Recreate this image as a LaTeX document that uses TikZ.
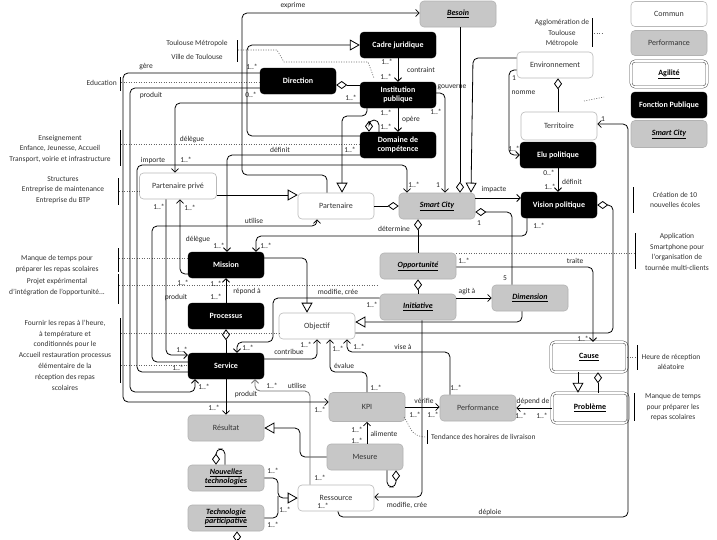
\documentclass[tikz,border=0pt]{standalone}
\usepackage{fontspec}
\setmainfont{Carlito}
\usetikzlibrary{arrows.meta}
\begin{document}
\begin{tikzpicture}[x=1pt,y=-1pt,
  nbox/.style={rounded corners=4pt, minimum width=76pt, minimum height=26pt, align=center, inner sep=1pt, font=\fontsize{8}{9.5}\selectfont},
  uCommun/.style={nbox, draw=gray!55, fill=white, line width=0.6pt, text=black!80},
  uPerf/.style={nbox, draw=gray!60, fill=black!22, line width=0.6pt, text=black!80},
  uAgil/.style={nbox, draw=black!70, double=white, double distance=1.6pt, line width=0.5pt, fill=white, font=\fontsize{8}{9.5}\selectfont\bfseries},
  uFP/.style={nbox, draw=black, fill=black, text=white, font=\fontsize{8}{9.5}\selectfont\bfseries},
  uSC/.style={nbox, draw=gray!60, fill=black!22, line width=0.6pt, font=\fontsize{8}{9.5}\selectfont\bfseries\itshape},
  lbl/.style={font=\fontsize{7.5}{8}\selectfont, inner sep=0.5pt, text=black!85},
  notetxt/.style={font=\fontsize{7.5}{10.8}\selectfont, align=center, inner sep=0pt, text=black!80},
  notebar/.style={line width=1pt},
  conn/.style={line width=0.8pt, rounded corners=5pt},
  nav/.style={conn, -{Straight Barb[length=3.5pt,width=7pt]}},
  gen/.style={conn, -{Triangle[open,length=10pt,width=11pt]}},
  agg/.style={conn, {Diamond[open,length=11pt,width=8pt]}-},
  dotl/.style={line width=0.6pt, dash pattern=on 1pt off 1.5pt, black!60},
]
\fill[white] (0,0) rectangle (717,539);
\useasboundingbox (0,0) rectangle (717,539);

% ---------- legend ----------
\node[uCommun, minimum height=25pt] (L1) at (669,14) {Commun};
\node[uPerf, minimum height=25pt] (L2) at (669,43) {Performance};
\node[uAgil] (L3) at (669,74) {\underline{Agilité}};
\node[uFP] (L4) at (669,105) {Fonction Publique};
\node[uSC, minimum height=27pt] (L5) at (669,134) {\underline{Smart City}};

% ---------- nodes ----------
\node[uSC] (Bes) at (458,14) {\underline{Besoin}};
\node[uFP] (Cad) at (398,45) {Cadre juridique};
\node[uFP] (Dir) at (298,81) {Direction};
\node[uFP] (Inst) at (398,95) {Institution\\publique};
\node[uFP] (Dom) at (398,145) {Domaine de\\compétence};
\node[uCommun] (Env) at (555,65) {Environnement};
\node[uCommun, minimum height=28pt] (Ter) at (559,126) {Territoire};
\node[uFP] (Elu) at (558,155) {Elu politique};
\node[uFP] (Vis) at (559,205) {Vision politique};
\node[uCommun, minimum width=77pt] (PP) at (178,186) {Partenaire privé};
\node[uCommun] (Part) at (336,206) {Partenaire};
\node[uSC] (SC) at (437,206) {\underline{Smart City}};
\node[uSC] (Opp) at (418,266) {\underline{Opportunité}};
\node[uSC] (Ini) at (418,307) {\underline{Initiative}};
\node[uSC] (Dim) at (530,298) {\underline{Dimension}};
\node[uCommun] (Obj) at (317,326) {Objectif};
\node[uFP] (Mis) at (226,265) {Mission};
\node[uFP] (Pro) at (226,316) {Processus};
\node[uFP] (Ser) at (226,366) {Service};
\node[uPerf] (Rst) at (226,428) {Résultat};
\node[uSC] (NT) at (226,478) {\underline{Nouvelles}\\\underline{technologies}};
\node[uSC] (TP) at (226,518) {\underline{Technologie}\\\underline{participative}};
\node[uPerf, minimum height=29pt] (KPI) at (367,407) {KPI};
\node[uPerf] (Mes) at (365,457) {Mesure};
\node[uCommun] (Res) at (336,498) {Ressource};
\node[uPerf] (Perf) at (478,408) {Performance};
\node[uAgil, minimum height=30pt] (Cau) at (589,357) {\underline{Cause}};
\node[uAgil, minimum height=30pt] (Prob) at (590,408) {\underline{Problème}};

% ---------- notes ----------
\node[notetxt, font=\fontsize{7.5}{13.5}\selectfont] (n1) at (197,50) {Toulouse Métropole\\Ville de Toulouse};
\draw[notebar] (237,40) -- (237,62);
\node[notetxt, anchor=east] (n2) at (117,83) {Education};
\draw[notebar] (120,77) -- (120,91);
\node[notetxt] (n3) at (60,149) {Enseignement\\Enfance, Jeunesse, Accueil\\Transport, voirie et infrastructure};
\draw[notebar] (120,130) -- (120,166);
\node[notetxt] (n4) at (63,190) {Structures\\Entreprise de maintenance\\Entreprise du BTP};
\draw[notebar] (118,178) -- (118,205);
\node[notetxt] (n5) at (57,264) {Manque de temps pour\\préparer les repas scolaires};
\draw[notebar] (118,248) -- (118,272);
\node[notetxt] (n6) at (57,287) {Projet expérimental\\d'intégration de l'opportunité...};
\draw[notebar] (118,274) -- (118,304);
\node[notetxt] (n7) at (65,355) {Fournir les repas à l'heure,\\à température et\\conditionnés pour le\\Accueil restauration processus\\élémentaire de la\\réception des repas\\scolaires};
\draw[notebar] (120,318) -- (120,383);
\node[notetxt] (n8) at (562,33) {Agglomération de\\Toulouse\\Métropole};
\draw[notebar] (592,18) -- (592,47);
\node[notetxt] (n9) at (675,200) {Création de 10\\nouvelles écoles};
\draw[notebar] (633,187) -- (633,213);
\node[notetxt] (n10) at (677,252) {Application\\Smartphone pour\\l'organisation de\\tournée multi-clients};
\draw[notebar] (635,233) -- (635,269);
\node[notetxt] (n11) at (671,362) {Heure de réception\\aléatoire};
\draw[notebar] (637,345) -- (637,370);
\node[notetxt] (n12) at (673,407) {Manque de temps\\pour préparer les\\repas scolaires};
\draw[notebar] (634,393) -- (634,421);
\node[notetxt, anchor=west] (n13) at (431,437) {Tendance des horaires de livraison};
\draw[notebar] (427,430) -- (427,444);

% note connectors
\draw[dotl] (238,50) -- (277,50) -- (284,62) -- (368,62) -- (374,78);
\draw[dotl] (121,82) -- (Dir.west |- 0,82);
\draw[dotl] (121,144) -- (Dom.west |- 0,144);
\draw[dotl] (119,191) -- (PP.west |- 0,191);
\draw[dotl] (119,258) -- (Mis.west |- 0,258);
\draw[dotl] (119,285) -- (378,285);
\draw[dotl] (121,333) -- (Obj.west |- 0,333);
\draw[dotl] (121,365) -- (Ser.west |- 0,365);
\draw[dotl] (Opp.east |- 0,253) -- (634,253);
\draw[dotl] (Cau.east |- 0,357) -- (636,357);
\draw[dotl] (594,33) -- (604,33);
\draw[dotl] (584,101) -- (604,97);
\draw[dotl] (404,417) .. controls (410,425) and (410,437) .. (426,437);

% ---------- connectors ----------
% exprime
\draw[nav] (Part.north -| 327,0) -- (327,175) -- (242,175) -- (242,13) -- (Bes.west |- 0,13);
\node[lbl] at (293,6) {exprime};
% Domaine is-a Cadre juridique
\draw[gen] (Dom.west |- 0,136) -- (247,136) -- (247,45) -- (Cad.west);
% contraint
\draw[nav] (Cad.south) -- (Inst.north);
\node[lbl] at (387,62) {1..*};
\node[lbl] at (386,77) {1..*};
\node[lbl] at (421,70) {contraint};
% Direction - Institution
\draw[agg] (Dir.east |- 0,85) -- (Inst.west |- 0,85);
% opere
\draw[nav] (Inst.south) -- (Dom.north);
\node[lbl] at (386,113) {1..*};
\node[lbl] at (386,127) {1..*};
\node[lbl] at (411,120) {opère};
% Domaine self
\draw[agg] (Dom.north -| 369,0) -- (369,120) -- (379,120) -- (Dom.north -| 379,0);
% Institution is-a Partenaire
\draw[gen] (Inst.south -| 367,0) -- (367,116) -- (342,116) -- (Part.north -| 342,0);
% gouverne
\draw[nav] (Inst.east |- 0,93) -- (445,93) -- (SC.north -| 445,0);
\node[lbl] at (452,87) {gouverne};
\node[lbl] at (436,112) {1..*};
\node[lbl] at (438,185) {1};
% Besoin - Smart City
\draw[agg] (SC.north -| 460,0) -- (Bes.south -| 460,0);
% Environnement is-a Smart City
\draw[gen] (Env.west |- 0,58) -- (473,58) -- (SC.north -| 471,0);
% nomme
\draw[nav] (Env.west |- 0,70) -- (509,70) -- (509,155) -- (Elu.west);
\node[lbl] at (514,78) {1};
\node[lbl, anchor=west] at (511,93) {nomme};
\node[lbl] at (514,149) {1..*};
% Environnement - Territoire
\draw[agg] (Env.south -| 558,0) -- (Ter.north -| 558,0);
% deploie
\draw[nav] (Res.south -| 338,0) -- (338,517) -- (628,517) -- (628,124) -- (Ter.east |- 0,124);
\node[lbl] at (323,506) {1..*};
\node[lbl] at (490,512) {déploie};
\node[lbl] at (603,119) {1};
% definit (Elu -> Vision)
\draw[nav] (Elu.south) -- (Elu.south |- Vis.north);
\node[lbl] at (549,173) {0..*};
\node[lbl] at (550,187) {1..*};
\node[lbl] at (572,182) {définit};
% impacte
\draw[nav] (SC.east |- 0,198) -- (Vis.west |- 0,198);
\node[lbl] at (494,190) {impacte};
% Smart City - Dimension
\draw[agg] (SC.east |- 0,212) -- (512,212) -- (Dim.north -| 512,0);
\node[lbl] at (479,223) {1};
\node[lbl] at (505,278) {5};
% determine
\draw[nav] (Vis.south -| 527,0) -- (527,236) -- (256,236) -- (Mis.north -| 256,0);
\node[lbl] at (394,229) {détermine};
\node[lbl] at (539,226) {1..*};
\node[lbl] at (266,246) {1..*};
% Smart City - Opportunite
\draw[agg] (SC.south -| 418,0) -- (Opp.north);
% Opportunite - Initiative
\draw[agg] (Opp.south) -- (Ini.north);
% traite
\draw[nav] (Opp.east |- 0,267) -- (593,267) -- (Cau.north -| 593,0);
\node[lbl] at (464,261) {1..*};
\node[lbl] at (575,261) {traite};
\node[lbl] at (583,339) {1..*};
% Vision - Objectif
\draw[agg] (Vis.east) -- (613,205) -- (613,333) -- (Obj.east |- 0,333);
% Dimension is-a Objectif
\draw[gen] (Dim.south -| 522,0) -- (522,322) -- (Obj.east |- 0,322);
% Initiative -> Dimension
\draw[nav] (Ini.east |- 0,298) -- (Dim.west |- 0,298);
\node[lbl] at (467,292) {agit à};
% modifie, cree (Ressource)
\draw[nav] (Ini.south -| 422,0) -- (422,497) -- (Res.east |- 0,497);
\node[lbl] at (407,505) {modifie, crée};
% modifie, cree (Service)
\draw[nav] (Ini.west |- 0,298) -- (273,298) -- (273,342) -- (237,342) -- (Ser.north -| 237,0);
\node[lbl] at (338,292) {modifie, crée};
\node[lbl] at (372,305) {1..*};
\node[lbl] at (248,348) {1..*};
% Mission is-a Objectif
\draw[gen] (Mis.east |- 0,258) -- (307,258) -- (Obj.north -| 307,0);
% repond a
\draw[nav] (Pro.north) -- (Mis.south);
\node[lbl] at (216,284) {1..*};
\node[lbl] at (216,297) {1..*};
\node[lbl] at (247,291) {répond à};
% Processus - Service
\draw[agg] (Pro.south) -- (Ser.north);
% contribue
\draw[nav] (Ser.east |- 0,359) -- (317,359) -- (Obj.south -| 317,0);
\node[lbl] at (289,352) {contribue};
\node[lbl] at (306,345) {1..*};
% evalue
\draw[nav] (KPI.north) -- (367,372) -- (330,372) -- (Obj.south -| 330,0);
\node[lbl] at (344,366) {évalue};
\node[lbl] at (376,388) {1..*};
\node[lbl] at (338,349) {1..*};
% vise a
\draw[nav] (Perf.north -| 450,0) -- (450,352) -- (347,352) -- (Obj.south -| 347,0);
\node[lbl] at (403,347) {vise à};
\node[lbl] at (456,388) {1..*};
\node[lbl] at (359,347) {1..*};
% verifie
\draw[nav] (KPI.east) -- (KPI.east -| Perf.west);
\node[lbl] at (424,401) {vérifie};
\node[lbl] at (415,415) {1..*};
\node[lbl] at (433,415) {1..*};
% alimente
\draw[nav] (Mes.north -| 367,0) -- (KPI.south);
\node[lbl] at (357,430) {1..*};
\node[lbl] at (357,441) {1..*};
\node[lbl] at (384,434) {alimente};
% Mesure self
\draw[agg] (Mes.south -| 396,0) -- (396,487) -- (387,487) -- (Mes.south -| 387,0);
% Mesure is-a Resultat
\draw[gen] (Mes.west) -- (300,457) -- (300,428) -- (Rst.east);
% utilise (Ressource -> Service)
\draw[nav, draw=black!55] (Res.north -| 310,0) -- (310,391) -- (255,391) -- (Ser.south -| 255,0);
\node[lbl] at (320,478) {1..*};
\node[lbl] at (272,386) {1..*};
\node[lbl] at (297,386) {utilise};
% produit (Service -> Resultat)
\draw[nav] (Ser.south) -- (Rst.north);
\node[lbl] at (214,408) {1..*};
\node[lbl] at (246,394) {produit};
% technologies is-a Ressource
\draw[gen] (NT.east) -- (278,478) -- (278,498) -- (Res.west);
\draw[conn] (TP.east) -- (278,518) -- (278,496);
\node[lbl] at (273,471) {1..*};
\node[lbl] at (285,510) {1..*};
\node[lbl] at (273,525) {1..*};
% Nouvelles technologies self
\draw[agg] (NT.north -| 216,0) -- (216,449) -- (225,449) -- (NT.north -| 225,0);
% Technologie participative bottom
\draw[agg] (TP.south -| 237,0) -- (237,539);
% depend de
\draw[nav] (Prob.west) -- (Prob.west -| Perf.east);
\node[lbl] at (533,401) {dépend de};
\node[lbl] at (521,416) {1..*};
\node[lbl] at (542,416) {1..*};
% Cause is-a Probleme
\draw[gen] (Cau.south -| 578,0) -- (Prob.north -| 578,0);
% Cause - Probleme
\draw[agg] (Cau.south -| 598,0) -- (Prob.north -| 598,0);
% Partenaire prive is-a Partenaire
\draw[gen] (PP.east |- 0,195) -- (Part.west |- 0,195);
% Smart City - Partenaire
\draw[agg] (SC.west) -- (Part.east);

% left connectors
\draw[nav] (Dir.west |- 0,73) -- (123,73) -- (123,402) -- (KPI.west |- 0,402);
\node[lbl] at (146,67) {gère};
\node[lbl] at (252,67) {1..*};
\node[lbl] at (320,410) {1..*};
\draw[nav] (Dir.west |- 0,88) -- (130,88) -- (130,392) -- (195,392) -- (Ser.south -| 195,0);
\node[lbl] at (151,95) {produit};
\node[lbl] at (251,95) {0..*};
\node[lbl] at (204,387) {1..*};
\draw[nav] (Inst.west |- 0,103) -- (175,103) -- (PP.north -| 175,0);
\node[lbl] at (351,98) {1..*};
\node[lbl] at (192,140) {délègue};
\node[lbl] at (186,160) {1..*};
\draw[nav] (Dom.west |- 0,155) -- (227,155) -- (Mis.north -| 227,0);
\node[lbl] at (280,150) {définit};
\node[lbl] at (350,150) {1..*};
\node[lbl] at (219,246) {1..*};
\draw[nav] (Ser.west |- 0,372) -- (137,372) -- (137,165) -- (407,165) -- (SC.north -| 407,0);
\node[lbl] at (153,161) {importe};
\node[lbl] at (414,185) {1..*};
\node[lbl] at (178,368) {1..*};
\draw[nav] (Ser.west |- 0,362) -- (152,362) -- (152,226) -- (317,226) -- (Part.south -| 317,0);
\node[lbl] at (254,221) {utilise};
\draw[nav] (PP.south -| 166,0) -- (166,355) -- (Ser.west |- 0,355);
\node[lbl] at (159,207) {1..*};
\node[lbl] at (176,297) {produit};
\node[lbl] at (182,350) {1..*};
\draw[nav] (Mis.west |- 0,274) -- (180,274) -- (PP.south -| 180,0);
\node[lbl] at (198,240) {délègue};
\node[lbl] at (190,208) {1..*};
\node[lbl] at (183,283) {1..*};
\end{tikzpicture}
\end{document}
